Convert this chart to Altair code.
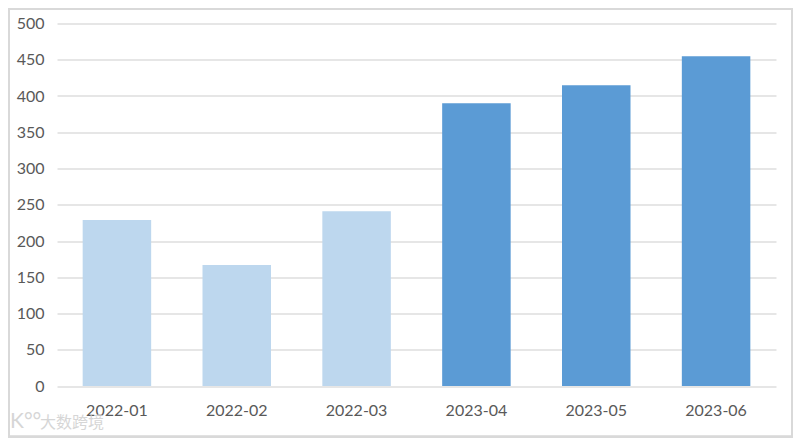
import altair as alt
import pandas as pd

months = ["2022-01", "2022-02", "2022-03", "2023-04", "2023-05", "2023-06"]
values = [229, 167, 241, 390, 415, 455]
years = ["2022", "2022", "2022", "2023", "2023", "2023"]
y_ticks = [0, 50, 100, 150, 200, 250, 300, 350, 400, 450, 500]
colors = ["#BDD7EE", "#5B9BD5"]
watermark = "大数跨境"
logo = "K°°"

df = pd.DataFrame({"month": months, "value": values, "year": years})

W, H = 719, 362.5
FONT = "Lato"

bars = alt.Chart(df).mark_bar(size=68.5).encode(
    x=alt.X(
        "month:N",
        sort=months,
        title=None,
        scale=alt.Scale(paddingInner=0.43, paddingOuter=0.215),
        axis=alt.Axis(
            labelAngle=0, domain=False, ticks=False, grid=False,
            labelPadding=16, labelFontSize=16, labelFont=FONT, labelColor="#595959",
        ),
    ),
    y=alt.Y(
        "value:Q",
        title=None,
        scale=alt.Scale(domain=[0, 500], nice=False),
        axis=alt.Axis(
            values=y_ticks, domain=False, ticks=False, grid=True,
            gridColor="#DEDEDE", gridWidth=1.6,
            labelPadding=13, labelFontSize=16, labelFont=FONT, labelColor="#595959",
        ),
    ),
    color=alt.Color("year:N", scale=alt.Scale(domain=["2022", "2023"], range=colors), legend=None),
)

frame_right = alt.Chart(df).mark_rule(color="#D9D9D9", strokeWidth=2).encode(
    x=alt.value(735), y=alt.value(-15.5), y2=alt.value(414)
)
frame_bottom = alt.Chart(df).mark_rule(color="#D9D9D9", strokeWidth=2.5).encode(
    y=alt.value(413.5), x=alt.value(-49), x2=alt.value(736)
)
frame_left = alt.Chart(df).mark_rule(color="#D9D9D9", strokeWidth=2).encode(
    x=alt.value(-48), y=alt.value(-15.5), y2=alt.value(414)
)
frame_top = alt.Chart(df).mark_rule(color="#D9D9D9", strokeWidth=2).encode(
    y=alt.value(-14.5), x=alt.value(-49), x2=alt.value(736)
)

wm_text = alt.Chart(pd.DataFrame({"t": [watermark]})).mark_text(
    font="Noto Sans CJK SC", fontSize=16, color="#CFCFCF", align="left", baseline="middle", opacity=0.85
).encode(x=alt.value(-17), y=alt.value(399), text="t:N")
wm_logo = alt.Chart(pd.DataFrame({"t": [logo]})).mark_text(
    font="Lato", fontSize=21, color="#CFCFCF", align="left", baseline="middle", opacity=0.85
).encode(x=alt.value(-47), y=alt.value(398), text="t:N")

chart = (
    alt.layer(bars, frame_right, frame_bottom, frame_left, frame_top, wm_text, wm_logo)
    .properties(
        width=W, height=H,
        autosize=alt.AutoSizeParams(type="none"),
        padding={"left": 49, "top": 15.5, "right": 17, "bottom": 52},
        background="#FFFFFF",
    )
    .configure_view(stroke=None)
)

chart.save("out.html", embed_options={"renderer": "svg", "actions": False})
